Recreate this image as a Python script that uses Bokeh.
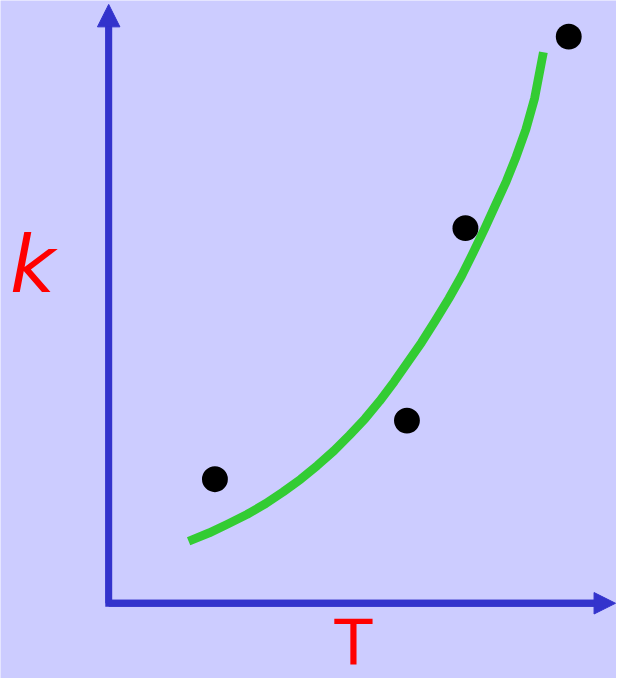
from bokeh.plotting import figure
from bokeh.models import Range1d, Arrow, NormalHead, Label
from bokeh.embed import file_html
from bokeh.resources import INLINE

# measured data points (T, k) in arbitrary units
T_points = [10.9, 30.6, 36.6, 47.2]
k_points = [12.7, 18.7, 38.4, 58.0]

# fitted curve
T_fit = [8.2, 10.3, 12.2, 14.2, 16.1, 17.9, 19.7, 21.4, 23.1, 24.7, 26.3, 27.8, 29.3,
         30.7, 32.1, 33.5, 34.9, 36.2, 37.4, 38.6, 39.7, 40.8, 41.8, 42.8, 43.7, 44.6]
k_fit = [6.35, 7.2, 8.1, 9.1, 10.2, 11.4, 12.7, 14.1, 15.6, 17.2, 18.9, 20.7, 22.7,
         24.7, 26.7, 28.9, 31.2, 33.5, 35.9, 38.4, 40.8, 43.2, 45.7, 48.5, 51.7, 56.4]

T_axis_end = 52.0
k_axis_end = 61.3

x_label = "T"
y_label = "k"

BG = "#ccccff"
AXIS = "#3333cc"
GREEN = "#33cc33"
RED = "#ff0000"

s = 0.976  # scale of pixel sizes

p = figure(width=616, height=678, output_backend="svg", toolbar_location=None,
           x_range=Range1d(-11.1, 52.1), y_range=Range1d(-7.7, 61.7),
           min_border=0, outline_line_color=None,
           background_fill_color=BG, border_fill_color=BG)
p.axis.visible = False
p.grid.visible = False

# axes as an L with arrowheads
p.line(x=[0, 0, T_axis_end - 1.5], y=[k_axis_end - 1.5, 0, 0],
       line_color=AXIS, line_width=7 * s, line_join="miter")
p.add_layout(Arrow(end=NormalHead(size=23 * s, fill_color=AXIS, line_color=AXIS, line_width=1),
                   x_start=0, y_start=0, x_end=0, y_end=k_axis_end,
                   line_color=AXIS, line_width=7 * s))
p.add_layout(Arrow(end=NormalHead(size=22 * s, fill_color=AXIS, line_color=AXIS, line_width=1),
                   x_start=0, y_start=0, x_end=T_axis_end, y_end=0,
                   line_color=AXIS, line_width=7 * s))

# fitted curve
p.line(x=T_fit, y=k_fit, line_color=GREEN, line_width=9 * s, line_join="round")

# data points
p.scatter(x=T_points, y=k_points, size=26.5 * s, fill_color="black", line_color=None)

# labels
p.add_layout(Label(x=-7.8, y=34.6, text=y_label, text_align="center", text_baseline="alphabetic",
                   text_font="DejaVu Sans", text_font_style="italic",
                   text_font_size=f"{80 * s:.0f}px", text_color=RED))
p.add_layout(Label(x=25.1, y=-4.0, text=x_label, text_align="center", text_baseline="alphabetic",
                   text_font="DejaVu Sans",
                   text_font_size=f"{64 * s:.0f}px", text_color=RED))

open("out.html", "w").write(file_html(p, INLINE))
